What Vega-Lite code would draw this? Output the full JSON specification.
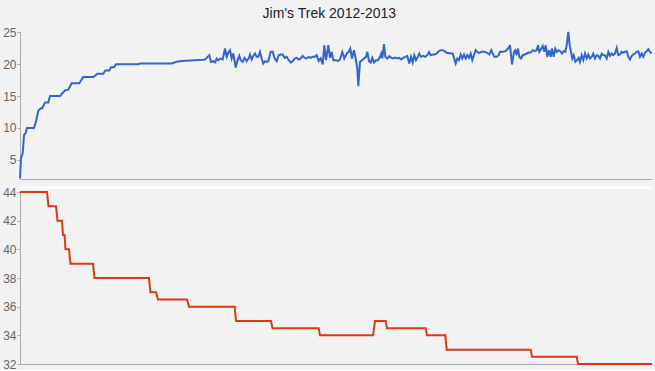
{
  "$schema": "https://vega.github.io/schema/vega-lite/v6.json",
  "background": "#f2f2f2",
  "padding": {"left": 2, "top": 7, "right": 3, "bottom": 0},
  "title": {"text": "Jim's Trek 2012-2013", "anchor": "middle", "fontSize": 14, "font": "Liberation Sans", "fontWeight": "normal", "color": "#222222", "offset": 5},
  "config": {
    "view": {"stroke": null},
    "axis": {"labelFont": "Liberation Sans", "labelFontSize": 12, "labelColor": "#666666", "domainColor": "#aaaaaa", "tickColor": "#aaaaaa", "tickSize": 3, "labelPadding": 1, "labelOverlap": false, "grid": false, "title": null}
  },
  "spacing": 3,
  "datasets": {
    "speed": [
      {"t":0,"v":2.1},{"t":1,"v":5.3},{"t":2.7,"v":6.0},{"t":4,"v":8.9},{"t":5.7,"v":9.2},{"t":7,"v":10.0},{"t":14,"v":10.0},{"t":16,"v":11.0},{"t":18.3,"v":12.7},{"t":20.7,"v":13.1},{"t":22.3,"v":13.1},{"t":25,"v":14.0},{"t":28.3,"v":14.0},{"t":30,"v":15.0},{"t":40,"v":15.0},{"t":43.3,"v":15.6},{"t":45,"v":15.9},{"t":48.3,"v":16.0},{"t":51.7,"v":17.0},{"t":59.3,"v":17.0},{"t":63.3,"v":18.0},{"t":73.3,"v":18.0},{"t":77.3,"v":18.5},{"t":83.3,"v":18.5},{"t":85.3,"v":19.0},{"t":89.3,"v":19.0},{"t":91,"v":19.5},{"t":94,"v":19.5},{"t":96,"v":20.0},{"t":118.3,"v":20.0},{"t":120,"v":20.1},{"t":151.7,"v":20.1},{"t":156.7,"v":20.37},{"t":161.7,"v":20.5},{"t":183.3,"v":20.7},
      {"t":185,"v":20.73},{"t":186.7,"v":20.99},{"t":189.3,"v":21.41},{"t":191,"v":20.36},{"t":193.3,"v":20.47},{"t":195,"v":20.26},{"t":196.7,"v":20.89},{"t":198.3,"v":20.63},{"t":200.7,"v":20.89},{"t":202.7,"v":20.73},{"t":205,"v":22.45},{"t":206.7,"v":21.15},{"t":208.3,"v":21.82},{"t":210,"v":22.19},{"t":211.7,"v":20.89},{"t":213.3,"v":21.67},{"t":215.7,"v":19.48},{"t":217.3,"v":20.47},{"t":219.3,"v":21.30},{"t":220.7,"v":20.63},{"t":222.7,"v":20.36},{"t":224.7,"v":20.99},{"t":226.7,"v":20.47},{"t":229,"v":20.99},{"t":230,"v":21.51},{"t":231.7,"v":20.73},{"t":233.3,"v":21.30},{"t":235,"v":21.67},{"t":236.7,"v":21.15},{"t":238.3,"v":21.15},{"t":240,"v":21.93},{"t":241.7,"v":20.89},{"t":243.3,"v":20.10},{"t":245,"v":20.47},{"t":246.7,"v":20.36},{"t":248.3,"v":20.47},{"t":250.7,"v":21.93},{"t":252.7,"v":21.93},{"t":254.7,"v":20.89},{"t":256.7,"v":20.47},{"t":258.7,"v":21.41},{"t":260.7,"v":21.51},{"t":262.7,"v":21.51},{"t":264.7,"v":20.99},{"t":266.7,"v":21.15},{"t":268.7,"v":20.63},{"t":270.7,"v":20.26},{"t":272.7,"v":20.47},{"t":274.7,"v":20.89},{"t":276.7,"v":20.99},{"t":278.7,"v":20.73},{"t":280.7,"v":20.89},{"t":282.7,"v":21.30},{"t":284.7,"v":20.99},{"t":286.7,"v":20.89},{"t":288.7,"v":21.15},{"t":290.7,"v":20.99},{"t":292.7,"v":21.15},{"t":294.7,"v":21.15},{"t":296.7,"v":21.41},{"t":298.7,"v":20.47},{"t":300.7,"v":20.89},{"t":302.7,"v":19.95},{"t":304.3,"v":22.97},{"t":306,"v":20.63},{"t":308.3,"v":22.97},{"t":310,"v":20.99},{"t":311.7,"v":21.93},{"t":313.3,"v":20.63},{"t":316,"v":20.63},{"t":318,"v":20.47},{"t":320,"v":20.73},{"t":322.3,"v":21.93},{"t":324.3,"v":20.89},{"t":326.7,"v":21.67},{"t":328.7,"v":21.93},{"t":330.3,"v":22.45},{"t":332,"v":20.89},{"t":334,"v":22.19},{"t":335.7,"v":20.89},{"t":337.3,"v":19.32},{"t":338.3,"v":16.56},
      {"t":340,"v":20.36},{"t":342,"v":20.63},{"t":344,"v":20.89},{"t":346,"v":21.15},{"t":347.3,"v":21.93},{"t":349,"v":20.47},{"t":350.7,"v":20.26},{"t":352.3,"v":20.99},{"t":354,"v":20.26},{"t":356,"v":20.63},{"t":358,"v":20.63},{"t":360,"v":21.15},{"t":361.3,"v":21.67},{"t":362.3,"v":20.89},{"t":364,"v":23.13},{"t":365.3,"v":21.15},{"t":367.3,"v":20.89},{"t":369.3,"v":21.25},{"t":371.3,"v":20.99},{"t":373.3,"v":20.89},{"t":375.3,"v":21.04},{"t":377.3,"v":20.89},{"t":379.3,"v":20.99},{"t":381.3,"v":20.73},{"t":383.3,"v":20.99},{"t":385.3,"v":21.15},{"t":387.3,"v":21.30},{"t":389.3,"v":20.10},{"t":391,"v":21.15},{"t":392.7,"v":20.26},{"t":394.3,"v":21.41},{"t":396,"v":20.63},{"t":397.7,"v":21.15},{"t":399.3,"v":21.67},{"t":401,"v":21.15},{"t":403.3,"v":21.30},{"t":405.3,"v":21.15},{"t":407.3,"v":21.41},{"t":409,"v":21.93},{"t":410.7,"v":21.41},{"t":412.7,"v":21.51},{"t":414.7,"v":21.51},{"t":416.7,"v":21.67},{"t":418.7,"v":22.03},{"t":420.7,"v":22.19},{"t":422.7,"v":22.19},{"t":424.7,"v":22.03},{"t":426.7,"v":21.77},{"t":428.7,"v":21.77},{"t":430.7,"v":21.67},{"t":432.7,"v":21.67},{"t":434,"v":20.99},{"t":435.7,"v":20.10},{"t":437.3,"v":20.89},{"t":439,"v":20.63},{"t":440.7,"v":21.51},{"t":442.3,"v":20.89},{"t":444,"v":21.51},{"t":445.7,"v":20.89},{"t":447.3,"v":21.41},{"t":449,"v":20.99},{"t":450.7,"v":21.67},{"t":452.3,"v":20.63},{"t":454,"v":21.41},{"t":455.7,"v":22.19},{"t":457.3,"v":21.93},{"t":459,"v":21.77},{"t":461.7,"v":21.93},{"t":464,"v":21.93},{"t":466.7,"v":21.82},{"t":469.3,"v":21.51},{"t":471.3,"v":22.19},{"t":472.7,"v":21.67},{"t":474.3,"v":21.15},{"t":476.7,"v":21.15},{"t":478.7,"v":21.41},{"t":480,"v":21.93},{"t":482.7,"v":21.93},{"t":485.3,"v":22.03},{"t":487.3,"v":22.34},{"t":489.3,"v":22.71},
      {"t":490,"v":22.97},{"t":492,"v":19.95},{"t":494,"v":21.93},{"t":495.3,"v":22.19},{"t":496.7,"v":21.41},{"t":498,"v":22.45},{"t":499.3,"v":21.15},{"t":501,"v":20.89},{"t":502.7,"v":21.41},{"t":504.7,"v":21.51},{"t":506.7,"v":21.67},{"t":508.7,"v":21.82},{"t":510.7,"v":21.82},{"t":512.7,"v":22.19},{"t":514.7,"v":22.03},{"t":516.7,"v":22.19},{"t":518,"v":22.97},{"t":519.3,"v":21.93},{"t":521,"v":22.34},{"t":522.7,"v":22.86},{"t":524.3,"v":21.93},{"t":525.7,"v":22.97},{"t":527.3,"v":21.15},{"t":529,"v":22.19},{"t":530.7,"v":21.15},{"t":532,"v":22.45},{"t":533.7,"v":21.15},{"t":535.3,"v":22.45},{"t":537,"v":21.93},{"t":538.7,"v":22.19},{"t":540.3,"v":22.03},{"t":542,"v":21.67},{"t":543.7,"v":22.03},{"t":545.3,"v":21.93},{"t":546.7,"v":22.97},{"t":548.3,"v":25.05},{"t":549.7,"v":22.97},{"t":551,"v":21.93},{"t":552.3,"v":20.89},{"t":553.7,"v":21.41},{"t":555.3,"v":20.36},{"t":557,"v":20.63},{"t":558.7,"v":20.99},{"t":560,"v":20.36},{"t":561.7,"v":21.41},{"t":563.3,"v":20.63},{"t":565,"v":21.67},{"t":566.7,"v":20.89},{"t":568.3,"v":21.51},{"t":570,"v":20.89},{"t":571.7,"v":21.15},{"t":573.3,"v":21.67},{"t":575,"v":20.89},{"t":576.7,"v":21.41},{"t":578.3,"v":21.30},{"t":580,"v":20.89},{"t":581.7,"v":21.67},{"t":583.3,"v":21.41},{"t":585,"v":21.41},{"t":586.7,"v":20.89},{"t":588.3,"v":21.93},{"t":590,"v":21.30},{"t":591.7,"v":21.67},{"t":593.3,"v":21.41},{"t":595,"v":21.67},{"t":596.7,"v":22.55},{"t":598.3,"v":21.41},{"t":600,"v":21.51},{"t":601.7,"v":21.93},{"t":603.3,"v":21.82},{"t":605,"v":21.93},{"t":606.7,"v":22.03},{"t":608.3,"v":21.15},{"t":610,"v":20.73},{"t":611.7,"v":21.30},{"t":613.3,"v":21.51},{"t":615,"v":21.67},{"t":616.7,"v":21.93},{"t":618.3,"v":22.03},{"t":620,"v":21.15},{"t":621.7,"v":21.67},{"t":623.3,"v":21.15},{"t":625,"v":21.82},{"t":626.7,"v":22.03},{"t":628.3,"v":22.34},{"t":630,"v":21.93},{"t":631.7,"v":21.67}
    ],
    "weight": [
      {"t":0,"w":44},{"t":27,"w":44},{"t":28.5,"w":43},{"t":36,"w":43},{"t":37.5,"w":42},{"t":42,"w":42},{"t":43,"w":41},{"t":44.5,"w":41},{"t":45.5,"w":40},{"t":49,"w":40},{"t":50.5,"w":39},{"t":73,"w":39},{"t":74.5,"w":38},{"t":129,"w":38},{"t":130.5,"w":37},{"t":136,"w":37},{"t":138,"w":36.5},{"t":167,"w":36.5},{"t":169,"w":36},{"t":214.7,"w":36},{"t":216,"w":35},{"t":251,"w":35},{"t":252.5,"w":34.5},{"t":298.7,"w":34.5},{"t":300,"w":34},{"t":353,"w":34},{"t":355,"w":35},{"t":365.7,"w":35},{"t":367,"w":34.5},{"t":405.7,"w":34.5},{"t":407,"w":34},{"t":425.3,"w":34},{"t":426.7,"w":33},{"t":510.7,"w":33},{"t":512,"w":32.5},{"t":556.7,"w":32.5},{"t":558,"w":32},{"t":632,"w":32}
    ]
  },
  "vconcat": [
    {
      "width": 632,
      "height": 148,
      "data": {"name": "speed"},
      "mark": {"type": "line", "color": "#3366cc", "strokeWidth": 2},
      "encoding": {
        "x": {"field": "t", "type": "quantitative", "scale": {"domain": [0, 632], "nice": false, "zero": false}, "axis": {"labels": false, "ticks": false, "domain": true}},
        "y": {"field": "v", "type": "quantitative", "scale": {"domain": [2, 25.2], "nice": false, "zero": false}, "axis": {"values": [5, 10, 15, 20, 25], "labelOverlap": false}}
      }
    },
    {
      "width": 632,
      "height": 172,
      "data": {"name": "weight"},
      "encoding": {
        "y": {"field": "w", "type": "quantitative", "scale": {"domain": [32, 44], "nice": false, "zero": false}, "axis": {"values": [32, 34, 36, 38, 40, 42, 44], "labelOverlap": false, "labelFlush": false}}
      },
      "layer": [
        {
          "mark": {"type": "line", "color": "#dc3912", "strokeWidth": 2},
          "encoding": {
            "x": {"field": "t", "type": "quantitative", "scale": {"domain": [0, 632], "nice": false, "zero": false}, "axis": {"labels": false, "ticks": false, "domain": true}}
          }
        },
        {
          "mark": {"type": "line", "opacity": 0},
          "encoding": {
            "x": {"field": "t", "type": "quantitative", "axis": {"orient": "top", "labels": false, "ticks": false, "domain": true, "domainColor": "#ffffff", "domainWidth": 2, "offset": 5}}
          }
        }
      ],
      "resolve": {"axis": {"x": "independent"}}
    }
  ]
}
